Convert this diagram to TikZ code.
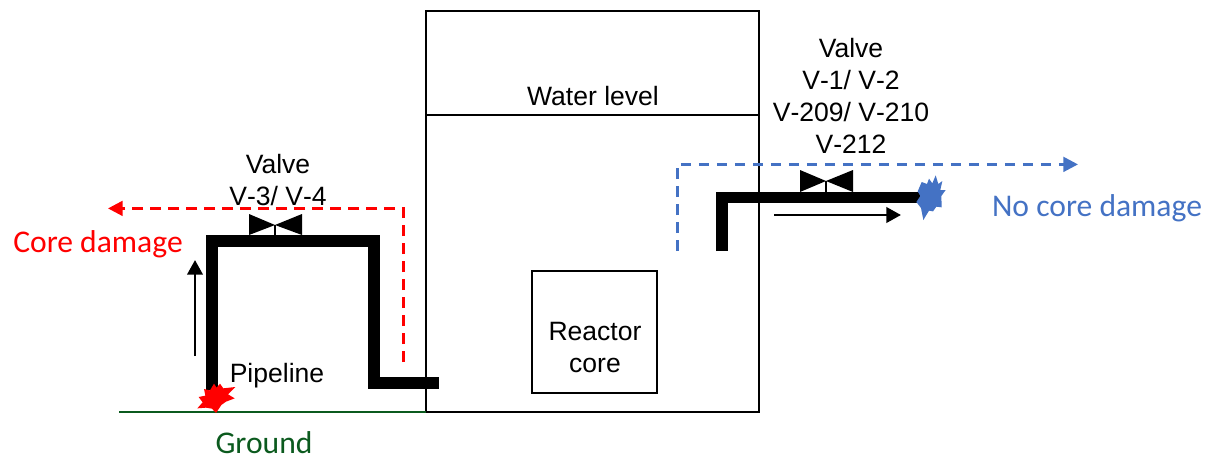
\documentclass[tikz,border=0pt]{standalone}
\usepackage{fontspec}
\setmainfont{Liberation Sans}
\newfontfamily\calib{Carlito}
\usetikzlibrary{arrows.meta}
\definecolor{redc}{HTML}{FF0000}
\definecolor{bluec}{HTML}{4472C4}
\definecolor{greenc}{HTML}{0B5A1E}
\tikzset{
  boxn/.style={draw=black,line width=1.4pt,inner sep=0pt,outer sep=0pt,anchor=north west},
  lbl/.style={inner sep=0pt,font=\fontsize{19.9}{24}\selectfont,text=black,anchor=base},
  vlbl/.style={lbl,font=\fontsize{19.9}{24}\selectfont\addfontfeature{Kerning=Off}},
  clbl/.style={inner sep=0pt,font=\calib\fontsize{23.7}{28}\selectfont,anchor=base},
  pipe/.style={line width=8.8pt,line cap=butt,line join=miter},
  thinar/.style={line width=2.2pt,-{Triangle[length=11pt,width=11.5pt]}},
  dashr/.style={draw=redc,line width=2.1pt,dash pattern=on 8pt off 5.5pt,-{Triangle[length=11pt,width=11pt]}},
  dashb/.style={draw=bluec,line width=2.1pt,dash pattern=on 8pt off 5.5pt,-{Triangle[length=11pt,width=11pt]}},
  valvebody/.style={fill=black,draw=none},
}
\begin{document}
\begin{tikzpicture}[x=0.75pt,y=-0.75pt]
\useasboundingbox (0,0) rectangle (1206,457);
% tank and core
\node[boxn,minimum width=249.75pt,minimum height=300.75pt] (tank) at (426,11) {};
\node[boxn,minimum width=93.75pt,minimum height=91.5pt] (corebox) at (532,271) {};
\coordinate (wl) at (426,115); \coordinate (wr) at (759,115);
\draw[line width=1.2pt] (wl) -- (wr);
% ground
\coordinate (gl) at (119,412); \coordinate (gr) at (426,412);
\draw[draw=greenc,line width=1.1pt] (gl) -- (gr);
% dashed paths
\coordinate (ra) at (403.4,362); \coordinate (rb) at (403.4,208.4); \coordinate (rc) at (108,208.4);
\draw[dashr] (ra) -- (rb) -- (rc);
\coordinate (ba) at (677.4,251); \coordinate (bb) at (677.4,164.4); \coordinate (bc) at (1078,164.4);
\draw[dashb] (ba) -- (bb) -- (bc);
% left pipe
\coordinate (p1) at (211.7,390); \coordinate (p2) at (211.7,241); \coordinate (p3) at (374,241);
\coordinate (p4) at (374,383); \coordinate (p5) at (439,383);
\draw[pipe] (p1) -- (p2) -- (p3) -- (p4) -- (p5);
% right pipe
\coordinate (q1) at (722,251); \coordinate (q2) at (722,197.5); \coordinate (q3) at (920,197.5);
\draw[pipe] (q1) -- (q2) -- (q3);
% flow arrows
\coordinate (a1) at (195,356); \coordinate (a2) at (195,260);
\draw[thinar] (a1) -- (a2);
\coordinate (a3) at (774,215); \coordinate (a4) at (901,215);
\draw[thinar] (a3) -- (a4);
% valves
\fill[valvebody] (249,214) -- (275,225) -- (302,214) -- (302,235) -- (275,225) -- (249,235) -- cycle;
\draw[line width=1.2pt] (275,225) -- (275,236);
\fill[valvebody] (800,170) -- (826,181) -- (853,170) -- (853,192) -- (826,181) -- (800,192) -- cycle;
\draw[line width=1.2pt] (826,181) -- (826,192);
% bursts
\begin{scope}[shift={(190,375)},x=0.25pt,y=-0.25pt]
\fill[redc] (22,100) -- (38,82) -- (26,66) -- (46,62) -- (42,42) -- (60,46) -- (72,26) -- (80,38) -- (90,26) -- (100,40) -- (136,36) -- (114,58) -- (134,70) -- (108,80) -- (94,90) -- (78,114) -- (66,101) -- (48,98) -- cycle;
\end{scope}
\begin{scope}[shift={(905,170)},x=0.25pt,y=-0.25pt]
\fill[bluec] (92,16) -- (100,42) -- (112,33) -- (106,60) -- (122,60) -- (109,78) -- (110,112) -- (94,110) -- (84,124) -- (72,122) -- (55,150) -- (48,114) -- (34,96) -- (46,78) -- (38,64) -- (50,36) -- (66,42) -- (72,26) -- (82,40) -- cycle;
\end{scope}
% labels
\node[lbl] (t1) at (851,57) {Valve};
\node[vlbl] (t2) at (851,89) {V-1/ V-2};
\node[vlbl] (t3) at (851,121) {V-209/ V-210};
\node[vlbl] (t4) at (851,153) {V-212};
\node[lbl] (t5) at (278,173) {Valve};
\node[vlbl] (t6) at (278,205) {V-3/ V-4};
\node[lbl] (t7) at (277,382) {Pipeline};
\node[lbl] (t8) at (593,105) {Water level};
\node[lbl] (t9) at (595,340) {Reactor};
\node[lbl] (t10) at (595,372) {core};
\node[clbl,text=redc] (c1) at (98,252) {Core damage};
\node[clbl,text=bluec] (c2) at (1097,216) {No core damage};
\node[clbl,text=greenc] (c3) at (264,453) {Ground};
\end{tikzpicture}
\end{document}
